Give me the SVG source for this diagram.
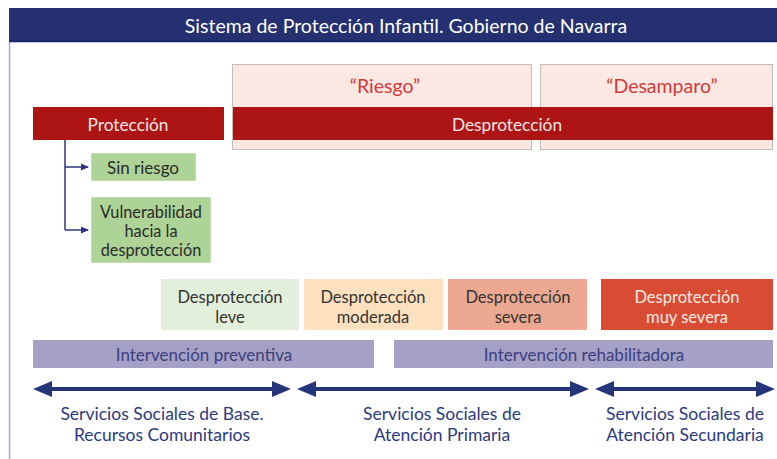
<svg xmlns="http://www.w3.org/2000/svg" width="777" height="459" viewBox="0 0 777 459">
<defs>
<style>
text{font-family:Lato,"Open Sans","Liberation Sans",sans-serif;text-anchor:middle;dominant-baseline:central}
.pink{fill:#fbe8e2;stroke:#c4bcba;stroke-width:1}
.pinkt{fill:#d23a3a;font-size:19.5px}
.red{fill:#ad1514}
.redt{fill:#f6e6e6;font-size:17.3px}
.green{fill:#aed396;stroke:#c4e0b2;stroke-width:1}
.gt{fill:#2a2a2a;font-size:17px}
.gv{fill:#2a2a2a;font-size:16.3px}
.sev{font-size:16.5px;fill:#333}
.bar{fill:#a4a0c6}
.bart{fill:#3c3f7c;font-size:17px}
.lab{fill:#2b3a7e;font-size:17.5px}
.conn{stroke:#2c3680;fill:none}
</style>
<marker id="sa" markerWidth="8" markerHeight="8" refX="7" refY="4" orient="auto" markerUnits="userSpaceOnUse">
<path d="M0,0.5 L8,4 L0,7.5 Z" fill="#2c3680"/>
</marker>
</defs>
<rect x="0" y="0" width="777" height="459" fill="#ffffff"/>
<g id="frame">
<line x1="9.5" y1="42" x2="9.5" y2="459" stroke="#aaa9d2" stroke-width="1.5"/>
<rect x="9" y="8" width="768" height="34" fill="#243070"/>
<line x1="9" y1="41.5" x2="777" y2="41.5" stroke="#17206a" stroke-width="1.5"/>
<text x="406" y="25" fill="#ffffff" font-size="19.5">Sistema de Protección Infantil. Gobierno de Navarra</text>
</g>
<g id="riesgo">
<rect class="pink" x="232.5" y="64.5" width="299" height="85"/>
<text class="pinkt" x="385" y="85">“Riesgo”</text>
</g>
<g id="desamparo">
<rect class="pink" x="540.5" y="64.5" width="232" height="85"/>
<text class="pinkt" x="662" y="85">“Desamparo”</text>
</g>
<g id="proteccion">
<rect class="red" x="33" y="107" width="191" height="33"/>
<text class="redt" x="128" y="124">Protección</text>
</g>
<g id="desproteccion">
<rect class="red" x="233" y="107" width="540" height="33"/>
<text class="redt" x="507" y="124">Desprotección</text>
</g>
<g id="sin-riesgo">
<rect class="green" x="91.5" y="153.5" width="104" height="27"/>
<text class="gt" x="143" y="167">Sin riesgo</text>
</g>
<g id="vulnerabilidad">
<rect class="green" x="91.5" y="197.5" width="119" height="65"/>
<text class="gv" x="151" y="211">Vulnerabilidad</text>
<text class="gv" x="151" y="230">hacia la</text>
<text class="gv" x="151" y="249">desprotección</text>
</g>
<g id="leve">
<rect x="161" y="279" width="138" height="51" fill="#e2efda"/>
<text class="sev" x="230" y="297">Desprotección</text>
<text class="sev" x="230" y="317">leve</text>
</g>
<g id="moderada">
<rect x="304" y="279" width="139" height="51" fill="#fde1bf"/>
<text class="sev" x="373" y="297">Desprotección</text>
<text class="sev" x="373" y="317">moderada</text>
</g>
<g id="severa">
<rect x="448" y="279" width="139" height="51" fill="#eca890"/>
<text class="sev" x="518" y="297">Desprotección</text>
<text class="sev" x="518" y="317">severa</text>
</g>
<g id="muy-severa">
<rect x="601" y="279" width="172" height="51" fill="#d84c33"/>
<text x="687" y="297" font-size="16.5" fill="#fbe9e4">Desprotección</text>
<text x="687" y="317" font-size="16.5" fill="#fbe9e4">muy severa</text>
</g>
<g id="int-preventiva">
<rect class="bar" x="33" y="340" width="341" height="28"/>
<text class="bart" x="204" y="354">Intervención preventiva</text>
</g>
<g id="int-rehabilitadora">
<rect class="bar" x="394" y="340" width="379" height="28"/>
<text class="bart" x="584" y="354">Intervención rehabilitadora</text>
</g>
<g id="connectors">
<path class="conn" stroke-width="1.5" d="M65,140 V230"/>
<path class="conn" stroke-width="1.5" d="M65,167 H88" marker-end="url(#sa)"/>
<path class="conn" stroke-width="1.5" d="M65,230 H88" marker-end="url(#sa)"/>
<g fill="#25357a">
<path d="M33,389 L52,381 L52,387 L272,387 L272,381 L291,389 L272,397 L272,391 L52,391 L52,397 Z"/>
<path d="M297,389 L316,381 L316,387 L570,387 L570,381 L589,389 L570,397 L570,391 L316,391 L316,397 Z"/>
<path d="M595,389 L614,381 L614,387 L756,387 L756,381 L775,389 L756,397 L756,391 L614,391 L614,397 Z"/>
</g>
</g>
<g id="ss-base">
<text class="lab" x="162" y="413">Servicios Sociales de Base.</text>
<text class="lab" x="162" y="434">Recursos Comunitarios</text>
</g>
<g id="ss-primaria">
<text class="lab" x="442" y="413">Servicios Sociales de</text>
<text class="lab" x="442" y="434">Atención Primaria</text>
</g>
<g id="ss-secundaria">
<text class="lab" x="685" y="413">Servicios Sociales de</text>
<text class="lab" x="685" y="434">Atención Secundaria</text>
</g>
</svg>
